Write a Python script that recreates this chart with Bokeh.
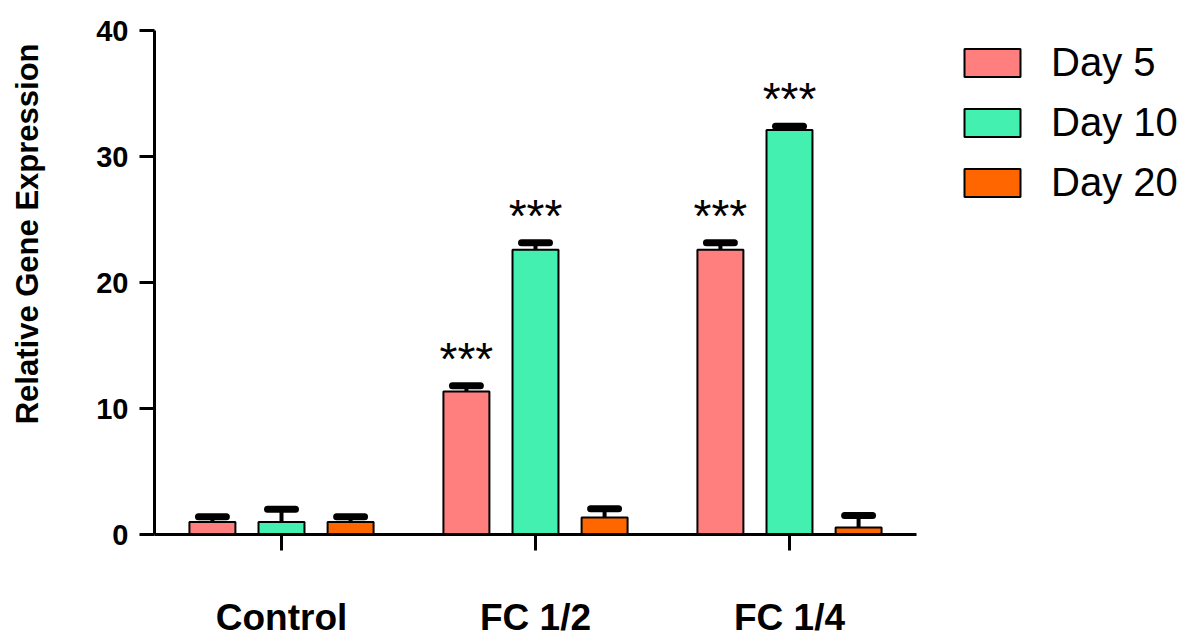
from bokeh.plotting import figure
from bokeh.models import (FactorRange, Range1d, ColumnDataSource, Legend, LegendItem,
                          Title, FixedTicker, LinearAxis)
from bokeh.transform import dodge
from bokeh.embed import file_html
from bokeh.resources import INLINE
from bokeh.core.properties import value

# ---- data ----
categories = ["Control", "FC 1/2", "FC 1/4"]
series_names = ["Day 5", "Day 10", "Day 20"]
day5 = [1.0, 11.35, 22.6]
day5_err = [0.4, 0.45, 0.55]
day10 = [1.0, 22.6, 32.1]
day10_err = [1.0, 0.55, 0.3]
day20 = [1.0, 1.35, 0.55]
day20_err = [0.4, 0.7, 0.95]
day5_sig = ["", "***", "***"]
day10_sig = ["", "***", "***"]
day20_sig = ["", "", ""]
y_ticks = [0, 10, 20, 30, 40]
y_title = "Relative Gene Expression"

# ---- style ----
colors = ["#FF7F7F", "#44F0B0", "#FF6600"]
offsets = [-0.272, 0.0, 0.272]
bar_w = 0.181
cap_half = 0.055
FONT = "Liberation Sans"

p = figure(x_range=FactorRange(*categories, range_padding=0, factor_padding=0),
           y_range=Range1d(0, 40),
           frame_width=762, frame_height=504,
           min_border_left=153, min_border_right=270,
           min_border_top=30, min_border_bottom=100,
           output_backend="svg", toolbar_location=None,
           background_fill_color="white", border_fill_color="white")
p.outline_line_color = None
p.xgrid.visible = False
p.ygrid.visible = False

# axes
for ax in (p.xaxis[0], p.yaxis[0]):
    ax.axis_line_width = 3
    ax.axis_line_color = "black"
    ax.major_tick_line_width = 3
    ax.major_tick_line_color = "black"
    ax.major_tick_in = 0
    ax.minor_tick_line_color = None
    ax.major_label_text_font = FONT
    ax.major_label_text_font_style = "bold"
    ax.major_label_text_color = "black"

p.xaxis.major_tick_out = 16
p.xaxis.major_label_text_font_size = "37px"
p.xaxis.major_label_standoff = 46

p.yaxis.ticker = FixedTicker(ticks=y_ticks)
p.yaxis.major_tick_out = 15
p.yaxis.major_label_text_font_size = "29px"
p.yaxis.major_label_standoff = 11

# blank spacer axis between the tick labels and the axis title
spacer = LinearAxis(ticker=FixedTicker(ticks=[40]), axis_line_color=None,
                    major_tick_line_color="white", major_tick_line_width=1,
                    minor_tick_line_color=None,
                    major_tick_in=0, major_tick_out=42, major_label_standoff=0,
                    minor_tick_out=0, major_label_text_font_size="0px",
                    major_label_overrides={40: ""})
p.add_layout(spacer, "left")

vals = [day5, day10, day20]
errs = [day5_err, day10_err, day20_err]
sigs = [day5_sig, day10_sig, day20_sig]

items = []
for name, v, e, s, c, off in zip(series_names, vals, errs, sigs, colors, offsets):
    src = ColumnDataSource(dict(cat=categories, top=v, err=e,
                                hi=[a + b for a, b in zip(v, e)], sig=s))
    r = p.vbar(x=dodge("cat", off, range=p.x_range), top="top", bottom=0,
               width=bar_w, source=src, fill_color=c, line_color="black",
               line_width=2)
    items.append(LegendItem(label=name, renderers=[r]))
    p.segment(x0=dodge("cat", off, range=p.x_range), y0="top",
              x1=dodge("cat", off, range=p.x_range), y1="hi",
              source=src, line_color="black", line_width=4)
    p.segment(x0=dodge("cat", off - cap_half, range=p.x_range), y0="hi",
              x1=dodge("cat", off + cap_half, range=p.x_range), y1="hi",
              source=src, line_color="black", line_width=7, line_cap="round")
    p.text(x=dodge("cat", off, range=p.x_range), y="hi", text="sig", source=src,
           text_align="center", text_baseline="alphabetic", y_offset=-27,
           text_font=value(FONT), text_font_size="46px", text_color="black")

legend = Legend(items=items, location=(41, 329), orientation="vertical",
                glyph_width=70, glyph_height=35, label_standoff=24, spacing=15,
                padding=0, margin=0, border_line_alpha=0, background_fill_alpha=0,
                label_text_font=FONT, label_text_font_size="40px",
                label_text_color="black")
p.add_layout(legend, "right")

title = Title(text=y_title, align="right", offset=13, standoff=14,
              text_font=FONT, text_font_style="bold", text_font_size="31px",
              text_color="black")
p.add_layout(title, "left")

open("out.html", "w").write(file_html(p, INLINE))
